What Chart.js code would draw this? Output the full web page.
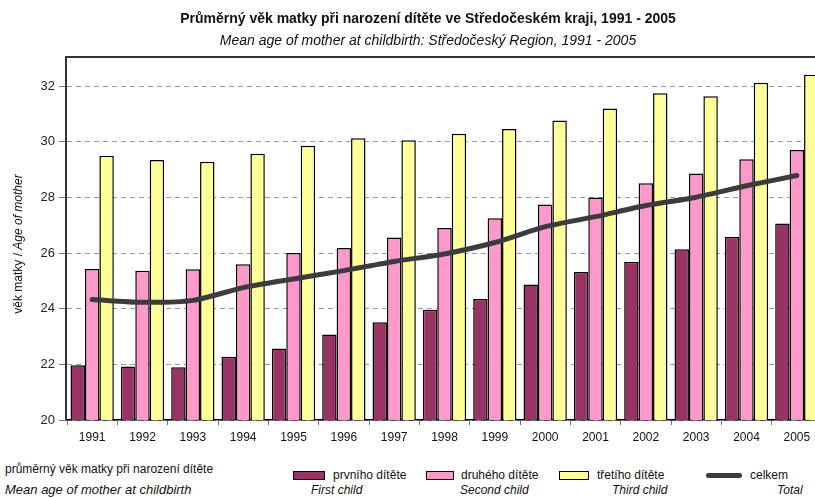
<!DOCTYPE html>
<html>
<head>
<meta charset="utf-8">
<script src="https://cdn.jsdelivr.net/npm/chart.js@4"></script>
<style>
  html, body { margin: 0; padding: 0; background: #fff; }
  body { width: 815px; height: 498px; overflow: hidden; position: relative; font-family: "Liberation Sans", Arial, sans-serif; color: #111; }
  #myChart { position: absolute; left: 0; top: 0; }
  .abs { position: absolute; white-space: nowrap; }
  .t1 { left: 0; width: 856px; text-align: center; top: 10px; font-size: 14px; font-weight: bold; }
  .t2 { left: 0; width: 856px; text-align: center; top: 32px; font-size: 14px; font-style: italic; }
  .ylab { left: -92px; width: 220px; top: 236px; height: 16px; line-height: 16px; text-align: center; font-size: 12px; transform: rotate(-90deg); }
  .lg { font-size: 12px; }
  .it { font-style: italic; }
  .box { position: absolute; height: 7px; border: 1.5px solid #000; }
  .ln { position: absolute; height: 5px; border-radius: 3px; background: #3c3c3c; }
</style>
</head>
<body>
<canvas id="myChart" width="830" height="460"></canvas>

<div class="abs t1">Průměrný věk matky při narození dítěte ve Středočeském kraji, 1991 - 2005</div>
<div class="abs t2">Mean age of mother at childbirth: Středočeský Region, 1991 - 2005</div>
<div class="abs ylab">věk matky / <i>Age of mother</i></div>

<div class="abs lg" style="left:5px; top:462px;">průměrný věk matky při narození dítěte</div>
<div class="abs lg it" style="left:5px; top:482px; font-size:13px;">Mean age of mother at childbirth</div>

<div class="box" style="left:293px; top:471px; width:30px; background:#993366;"></div>
<div class="abs lg" style="left:333px; top:468px;">prvního dítěte</div>
<div class="abs lg it" style="left:311px; top:483px;">First child</div>

<div class="box" style="left:426px; top:471px; width:26px; background:#ff99cc;"></div>
<div class="abs lg" style="left:461px; top:468px;">druhého dítěte</div>
<div class="abs lg it" style="left:460px; top:483px;">Second child</div>

<div class="box" style="left:559px; top:471px; width:28px; background:#ffff99;"></div>
<div class="abs lg" style="left:597px; top:468px;">třetího dítěte</div>
<div class="abs lg it" style="left:612px; top:483px;">Third child</div>

<div class="ln" style="left:706px; top:473px; width:36px;"></div>
<div class="abs lg" style="left:750px; top:468px;">celkem</div>
<div class="abs lg it" style="left:777px; top:483px;">Total</div>

<script>
const ctx = document.getElementById('myChart').getContext('2d');

// Sample Data
const years = ['1991', '1992', '1993', '1994', '1995', '1996', '1997', '1998',
  '1999', '2000', '2001', '2002', '2003', '2004', '2005'];
const firstChild = [21.97, 21.92, 21.90, 22.27, 22.57, 23.07, 23.51, 23.96, 24.35, 24.87, 25.32, 25.68, 26.14, 26.58, 27.06];
const secondChild = [25.43, 25.37, 25.42, 25.60, 26.00, 26.18, 26.56, 26.90, 27.25, 27.75, 28.00, 28.51, 28.86, 29.37, 29.71];
const thirdChild = [29.50, 29.35, 29.28, 29.57, 29.86, 30.13, 30.06, 30.29, 30.46, 30.77, 31.20, 31.75, 31.64, 32.12, 32.41];
const total = [24.33, 24.23, 24.30, 24.76, 25.07, 25.37, 25.70, 25.97, 26.38, 26.95, 27.31, 27.71, 28.01, 28.42, 28.79];
const yTicks = [20, 22, 24, 26, 28, 30, 32];

// plot area frame: solid left axis line and top border
const frame = {
  id: 'frame',
  afterDraw(chart) {
    const a = chart.chartArea;
    const c = chart.ctx;
    c.save();
    c.strokeStyle = '#333';
    c.lineWidth = 2;
    c.beginPath();
    c.moveTo(chart.width, a.top);
    c.lineTo(a.left - 1, a.top);
    c.lineTo(a.left - 1, a.bottom);
    c.stroke();
    c.restore();
  }
};

const barStyle = {
  borderColor: '#000',
  borderWidth: 1.5,
  categoryPercentage: 0.86,
  barPercentage: 1.0,
  order: 1
};

const myChart = new Chart(ctx, {
  data: {
    labels: years,
    datasets: [
      {
        type: 'line',
        label: 'celkem',
        data: total,
        borderColor: '#3c3c3c',
        borderWidth: 5,
        borderCapStyle: 'round',
        pointRadius: 0,
        tension: 0.25,
        order: 0
      },
      Object.assign({ type: 'bar', label: 'prvního dítěte', data: firstChild, backgroundColor: '#993366' }, barStyle),
      Object.assign({ type: 'bar', label: 'druhého dítěte', data: secondChild, backgroundColor: '#ff99cc' }, barStyle),
      Object.assign({ type: 'bar', label: 'třetího dítěte', data: thirdChild, backgroundColor: '#ffff99' }, barStyle)
    ]
  },
  options: {
    responsive: false,
    animation: false,
    devicePixelRatio: 1,
    layout: { padding: { top: 57, right: 8, left: 0, bottom: 0 } },
    plugins: {
      legend: { display: false },
      tooltip: { enabled: false }
    },
    scales: {
      x: {
        offset: true,
        grid: {
          offset: true,
          drawOnChartArea: false,
          drawTicks: true,
          tickLength: 5,
          color: '#777'
        },
        border: { display: true, color: '#000', width: 1.5 },
        ticks: {
          color: '#111',
          padding: 5,
          maxRotation: 0,
          font: { family: 'Liberation Sans', size: 12 }
        },
        afterFit(scale) { scale.height = 40; }
      },
      y: {
        min: 20,
        max: 33.05,
        afterBuildTicks(scale) {
          scale.ticks = yTicks.map(v => ({ value: v }));
        },
        grid: {
          color: '#9a9a9a',
          lineWidth: 1,
          tickLength: 8,
          tickColor: '#777'
        },
        border: { display: false, dash: [5, 4] },
        ticks: {
          color: '#222',
          padding: 4,
          font: { family: 'Liberation Sans', size: 13 }
        },
        afterFit(scale) { scale.width = 67; }
      }
    }
  },
  plugins: [frame]
});
</script>
</body>
</html>
